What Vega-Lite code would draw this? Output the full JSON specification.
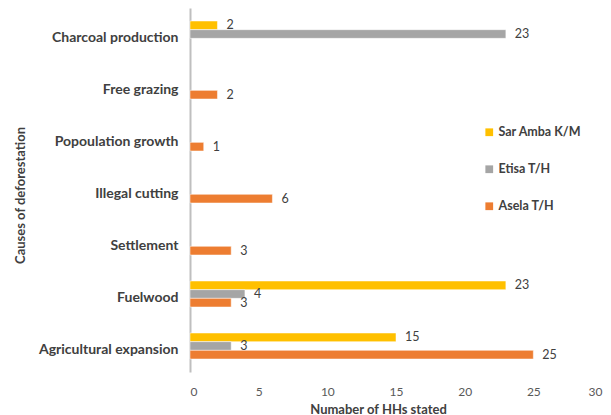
{
  "$schema": "https://vega.github.io/schema/vega-lite/v6.json",
  "width": 412,
  "height": 364,
  "autosize": {"type": "none"},
  "padding": {"left": 190, "top": 8, "right": 9, "bottom": 43},
  "background": "white",
  "config": {"view": {"stroke": null}, "font": "Lato"},
  "data": {
    "values": [
      {"cause": "Charcoal production", "site": "Sar Amba K/M", "n": 2},
      {"cause": "Charcoal production", "site": "Etisa T/H", "n": 23},
      {"cause": "Free grazing", "site": "Asela T/H", "n": 2},
      {"cause": "Popoulation growth", "site": "Asela T/H", "n": 1},
      {"cause": "Illegal cutting", "site": "Asela T/H", "n": 6},
      {"cause": "Settlement", "site": "Asela T/H", "n": 3},
      {"cause": "Fuelwood", "site": "Sar Amba K/M", "n": 23},
      {"cause": "Fuelwood", "site": "Etisa T/H", "n": 4},
      {"cause": "Fuelwood", "site": "Asela T/H", "n": 3},
      {"cause": "Agricultural expansion", "site": "Sar Amba K/M", "n": 15},
      {"cause": "Agricultural expansion", "site": "Etisa T/H", "n": 3},
      {"cause": "Agricultural expansion", "site": "Asela T/H", "n": 25}
    ]
  },
  "encoding": {
    "y": {
      "field": "cause",
      "type": "nominal",
      "sort": ["Charcoal production", "Free grazing", "Popoulation growth", "Illegal cutting", "Settlement", "Fuelwood", "Agricultural expansion"],
      "scale": {"paddingInner": 0.5, "paddingOuter": 0.25},
      "axis": {
        "title": "Causes of deforestation",
        "titleFontSize": 13,
        "titleFontWeight": "bold",
        "titleColor": "#404040",
        "titleAngle": 270,
        "titleX": -170,
        "titleY": 187,
        "titleAlign": "center",
        "titleBaseline": "middle",
        "labelFontSize": 14,
        "labelFontWeight": "bold",
        "labelColor": "#404040",
        "labelPadding": 12,
        "labelOffset": 4,
        "ticks": false,
        "domainColor": "#BFBFBF",
        "domainWidth": 2,
        "grid": false
      }
    },
    "yOffset": {
      "field": "site",
      "type": "nominal",
      "sort": ["Sar Amba K/M", "Etisa T/H", "Asela T/H"],
      "scale": {"domain": ["Sar Amba K/M", "Etisa T/H", "Asela T/H"]}
    },
    "x": {
      "field": "n",
      "type": "quantitative",
      "scale": {"domain": [0, 30]},
      "axis": {
        "values": [0, 5, 10, 15, 20, 25, 30],
        "title": "Numaber of HHs stated",
        "titleFontSize": 13,
        "titleFontWeight": "bold",
        "titleColor": "#404040",
        "titleX": 188,
        "titleY": 37,
        "titleAlign": "center",
        "titleBaseline": "middle",
        "labelFontSize": 12,
        "labelColor": "#595959",
        "labelPadding": 14,
        "domain": false,
        "ticks": false,
        "grid": false
      }
    }
  },
  "layer": [
    {
      "mark": {"type": "bar", "stroke": "white", "strokeWidth": 0.5},
      "encoding": {
        "color": {
          "field": "site",
          "type": "nominal",
          "scale": {"domain": ["Sar Amba K/M", "Etisa T/H", "Asela T/H"], "range": ["#FFC000", "#A5A5A5", "#ED7D31"]},
          "legend": {
            "title": null,
            "orient": "none",
            "legendX": 293,
            "legendY": 118,
            "symbolType": "square",
            "symbolSize": 60,
            "symbolStrokeWidth": 0,
            "labelFontSize": 12.5,
            "labelFontWeight": "bold",
            "labelColor": "#404040",
            "rowPadding": 24,
            "labelOffset": 3
          }
        }
      }
    },
    {
      "mark": {"type": "text", "align": "left", "baseline": "middle", "dx": 9, "fontSize": 12.5, "color": "#404040"},
      "encoding": {"text": {"field": "n", "type": "quantitative"}}
    }
  ]
}
